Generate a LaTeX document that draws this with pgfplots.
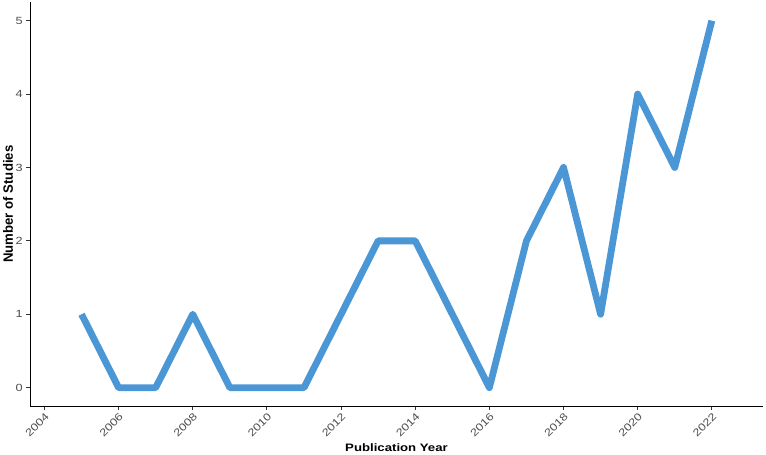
\documentclass[border=0pt]{standalone}
\usepackage{fontspec}
\setmainfont{Liberation Sans}[FakeStretch=1.22]
\usepackage{pgfplots}
\pgfplotsset{compat=1.18}
\definecolor{linecol}{RGB}{75,150,212}
\definecolor{tickgray}{RGB}{77,77,77}
\definecolor{tickmark}{RGB}{51,51,51}
\begin{document}
\begin{tikzpicture}
\useasboundingbox (-30bp,-49bp) rectangle (736bp,406bp);
\begin{axis}[
    scale only axis,
    width=733bp, height=403.7bp,
    xmin=2003.61, xmax=2023.38,
    ymin=-0.25, ymax=5.25,
    axis x line*=bottom, axis y line*=left,
    axis line style={black, line width=0.9bp, -},
    xtick={2004,2006,...,2022},
    ytick={0,1,2,3,4,5},
    tick align=outside,
    major tick length=3.7bp,
    tick style={tickmark, line width=0.9bp},
    /pgf/number format/assume math mode=true,
    /pgf/number format/1000 sep={},
    yticklabel style={font=\fontsize{10.4bp}{12bp}\selectfont, text=tickgray},
    xticklabel style={font=\fontsize{10.4bp}{12bp}\selectfont, text=tickgray,
      rotate=45, anchor=north east, inner sep=1.5bp},
    xlabel={Publication Year},
    ylabel={\scalebox{1}[1.25]{Number of Studies}},
    xlabel style={font=\fontsize{10.8bp}{12bp}\selectfont\bfseries, text=black,
      at={(axis description cs:0.5,0)}, anchor=base, yshift=-45bp},
    ylabel style={font=\fontsize{10.8bp}{12bp}\selectfont\bfseries, text=black,
      at={(axis description cs:0,0.5)}, anchor=center, yshift=22bp},
  ]
  \addplot[linecol, line width=6.8bp, line join=round, line cap=butt, no markers] coordinates {
    (2005,1) (2006,0) (2007,0) (2008,1) (2009,0) (2010,0) (2011,0)
    (2012,1) (2013,2) (2014,2) (2015,1) (2016,0) (2017,2) (2018,3)
    (2019,1) (2020,4) (2021,3) (2022,5)
  };
\end{axis}
\end{tikzpicture}
\end{document}
